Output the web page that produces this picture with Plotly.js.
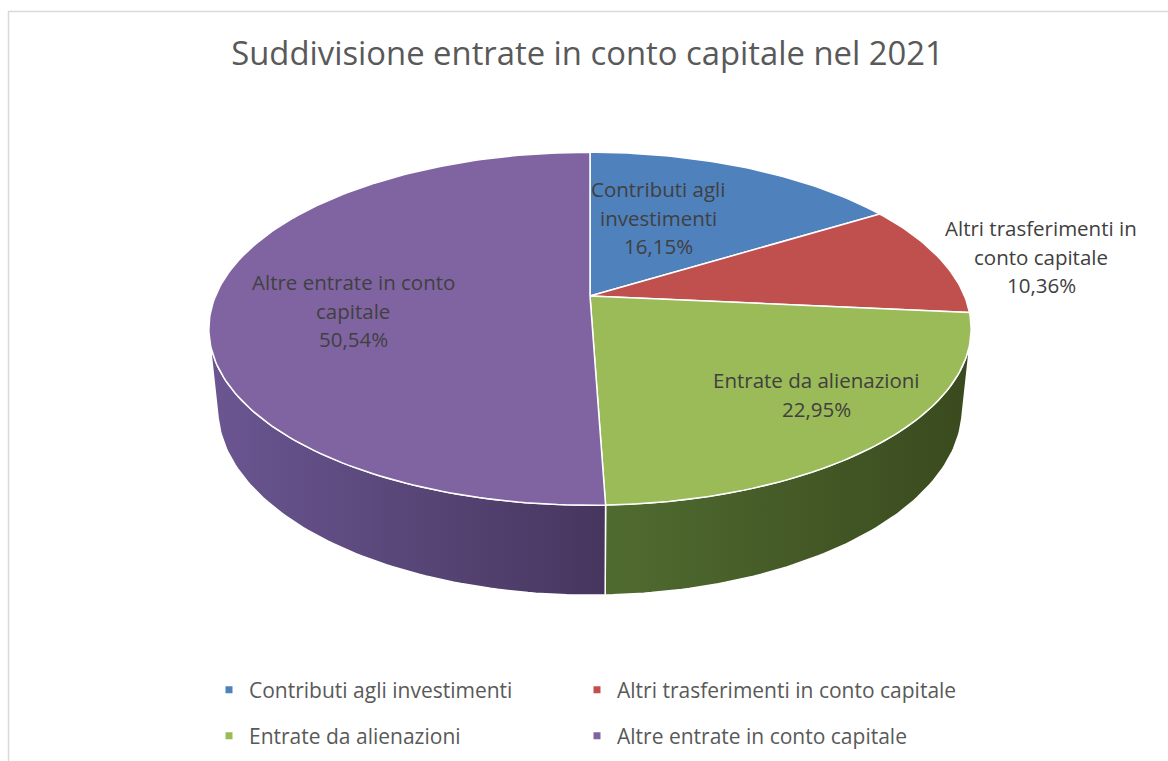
<!DOCTYPE html>
<html>
<head>
<meta charset="utf-8">
<script src="https://cdn.plot.ly/plotly-3.0.1.min.js"></script>
<style>html,body{margin:0;padding:0;background:#fff;}#chart{width:1168px;height:761px;}</style>
</head>
<body>
<div id="chart"></div>
<script>
// ---- data ----
const categories = ["Contributi agli investimenti", "Altri trasferimenti in conto capitale", "Entrate da alienazioni", "Altre entrate in conto capitale"];
const values = [16.15, 10.36, 22.95, 50.54];
const labelNames = ["Contributi agli<br>investimenti", "Altri trasferimenti in<br>conto capitale", "Entrate da alienazioni", "Altre entrate in conto<br>capitale"];
const topColors = ["#4f81bd", "#c0504d", "#9bbb59", "#8064a2"];
const wallColorsA = ["#3b6090", "#90403d", "#506b30", "#6b5692"];
const wallColorsB = ["#2c4870", "#70302d", "#3a4a1e", "#46365e"];
const titleText = "Suddivisione entrate in conto capitale nel 2021";

// ---- projection (3D pie, perspective) ----
const CX = 590, CY = 296, F = 1800, D = 4.806, CA = 0.891, SA = 0.455, H = 0.24;
function proj(deg, r, yw) {
  const t = deg * Math.PI / 180;
  const x = r * Math.sin(t), z = r * Math.cos(t);
  const Y = yw * CA + z * SA, Z = -yw * SA + z * CA;
  const s = F / (D + Z);
  return [CX + x * s, CY - Y * s];
}
const total = values.reduce((a, b) => a + b, 0);
const bounds = [];
let acc = 0;
values.forEach(v => { const a0 = acc / total * 360; acc += v; bounds.push([a0, acc / total * 360]); });

const traces = [];
// visible outer wall range (front-facing)
const WALL0 = 180 - Math.acos(1 / (D * CA)) * 180 / Math.PI;
const WALL1 = 360 - WALL0;
bounds.forEach((b, i) => {
  const a = Math.max(b[0], WALL0), e = Math.min(b[1], WALL1);
  if (e <= a) return;
  const xs = [], ys = [];
  const n = Math.max(2, Math.ceil(e - a));
  for (let k = 0; k <= n; k++) { const p = proj(a + (e - a) * k / n, 1, 0); xs.push(p[0]); ys.push(p[1]); }
  for (let k = n; k >= 0; k--) { const p = proj(a + (e - a) * k / n, 1, -H); xs.push(p[0]); ys.push(p[1]); }
  xs.push(xs[0]); ys.push(ys[0]);
  traces.push({
    type: "scatter", mode: "lines", x: xs, y: ys, fill: "toself",
    fillgradient: { type: "horizontal", colorscale: [[0, wallColorsA[i]], [1, wallColorsB[i]]] },
    line: { color: "#ffffff", width: 1.5 }, hoverinfo: "skip", showlegend: false
  });
});
bounds.forEach((b, i) => {
  const xs = [CX], ys = [CY];
  const n = Math.max(2, Math.ceil(b[1] - b[0]));
  for (let k = 0; k <= n; k++) { const p = proj(b[0] + (b[1] - b[0]) * k / n, 1, 0); xs.push(p[0]); ys.push(p[1]); }
  xs.push(CX); ys.push(CY);
  traces.push({
    type: "scatter", mode: "lines", x: xs, y: ys, fill: "toself", fillcolor: topColors[i],
    line: { color: "#ffffff", width: 1.5 }, hoverinfo: "skip", showlegend: false, name: categories[i]
  });
});
// legend entries (each in its own legend box, laid out as a 2x2 grid)
const legendIds = ["legend", "legend2", "legend3", "legend4"];
categories.forEach((c, i) => {
  traces.push({
    type: "scatter", mode: "markers", x: [null], y: [null], name: c,
    marker: { symbol: "square", size: 7, color: topColors[i] },
    legend: legendIds[i], hoverinfo: "skip"
  });
});

// data labels (one annotation per line)
const labelPos = [[658, 189], [1041, 228], [816, 380], [353, 282]];
const LINE = 28.5;
const annotations = [];
values.forEach((v, i) => {
  const lines = labelNames[i].split("<br>").concat([v.toFixed(2).replace(".", ",") + "%"]);
  lines.forEach((ln, k) => {
    annotations.push({
      x: labelPos[i][0], y: labelPos[i][1] + k * LINE, xref: "x", yref: "y",
      text: ln, showarrow: false, xanchor: "center", yanchor: "middle",
      font: { family: "Open Sans", size: 20.5, color: "#404040" }
    });
  });
});

const legendCommon = {
  orientation: "h", xanchor: "left", yanchor: "middle", bgcolor: "rgba(0,0,0,0)",
  font: { family: "Open Sans", size: 21, color: "#595959" },
  itemclick: false, itemdoubleclick: false
};
const legendXY = [[209, 690], [577, 690], [209, 736], [577, 736]];

const layout = {
  width: 1168, height: 761,
  margin: { l: 0, r: 0, t: 0, b: 0 },
  paper_bgcolor: "#ffffff", plot_bgcolor: "#ffffff",
  title: { text: titleText, x: 0.503, xanchor: "center", y: 1 - 54 / 761, yanchor: "middle",
           font: { family: "Open Sans", size: 32.8, color: "#595959" } },
  xaxis: { range: [0, 1168], visible: false, fixedrange: true },
  yaxis: { range: [761, 0], visible: false, fixedrange: true },
  showlegend: true,
  annotations: annotations,
  shapes: [{ type: "rect", xref: "x", yref: "y", x0: 8.5, y0: 11.5, x1: 1190, y1: 790,
             line: { color: "#d9d9d9", width: 1.5 }, fillcolor: "rgba(0,0,0,0)", layer: "below" }]
};
legendIds.forEach((id, i) => {
  layout[id] = Object.assign({}, legendCommon, { x: legendXY[i][0] / 1168, y: 1 - legendXY[i][1] / 761 });
});

Plotly.newPlot("chart", traces, layout, { staticPlot: true, displayModeBar: false });
</script>
</body>
</html>
